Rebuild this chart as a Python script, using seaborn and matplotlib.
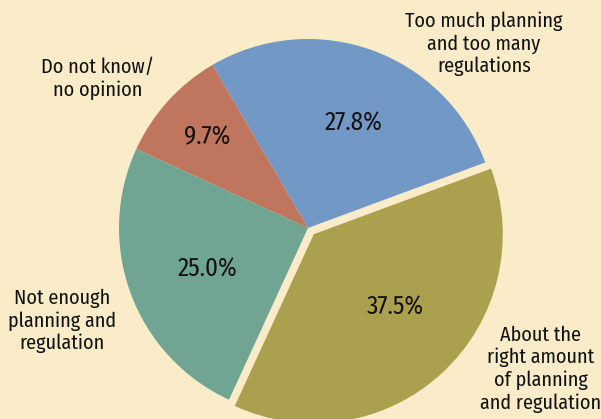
import matplotlib
matplotlib.use("Agg")
import matplotlib.pyplot as plt
import seaborn as sns

categories = ["Too much planning\nand too many\nregulations",
              "Do not know/\nno opinion",
              "Not enough\nplanning and\nregulation",
              "About the\nright amount\nof planning\nand regulation"]
values = [27.8, 9.7, 25.0, 37.5]
pct_labels = ["27.8%", "9.7%", "25.0%", "37.5%"]
colors = ["#7298C6", "#C0765E", "#70A593", "#ABA04D"]

sns.set_style("white")
plt.rcParams['font.family'] = ['Fira Sans Condensed', 'DejaVu Sans']

W, H = 601, 419
fig = plt.figure(figsize=(W / 100, H / 100), dpi=100)
bg = "#FAECC8"
fig.patch.set_facecolor(bg)
ax = fig.add_axes([0, 0, 1, 1])
ax.set_facecolor(bg)

pal = sns.color_palette(colors)
cx, cy, r = 308, H - 228, 189
ax.pie(values, colors=pal, startangle=20.3, counterclock=True,
       explode=[0, 0, 0, 0.045 * r], radius=r, center=(cx, cy),
       wedgeprops=dict(linewidth=0), frame=True)

pct_pos = [(354, 123), (207, 137), (207, 269), (395, 307)]
for (x, y), t in zip(pct_pos, pct_labels):
    ax.text(x, H - y, t, ha="center", va="center", fontsize=18, color="#111111")

cat_pos = [(484, 44), (98, 79), (62, 321), (541, 369)]
for (x, y), t in zip(cat_pos, categories):
    ax.text(x, H - y, t, ha="center", va="center", fontsize=14.5,
            color="#111111", linespacing=1.2)

ax.set_xlim(0, W)
ax.set_ylim(0, H)
ax.set_aspect("equal")
ax.axis("off")
fig.savefig("out.png", dpi=100, facecolor=bg)
